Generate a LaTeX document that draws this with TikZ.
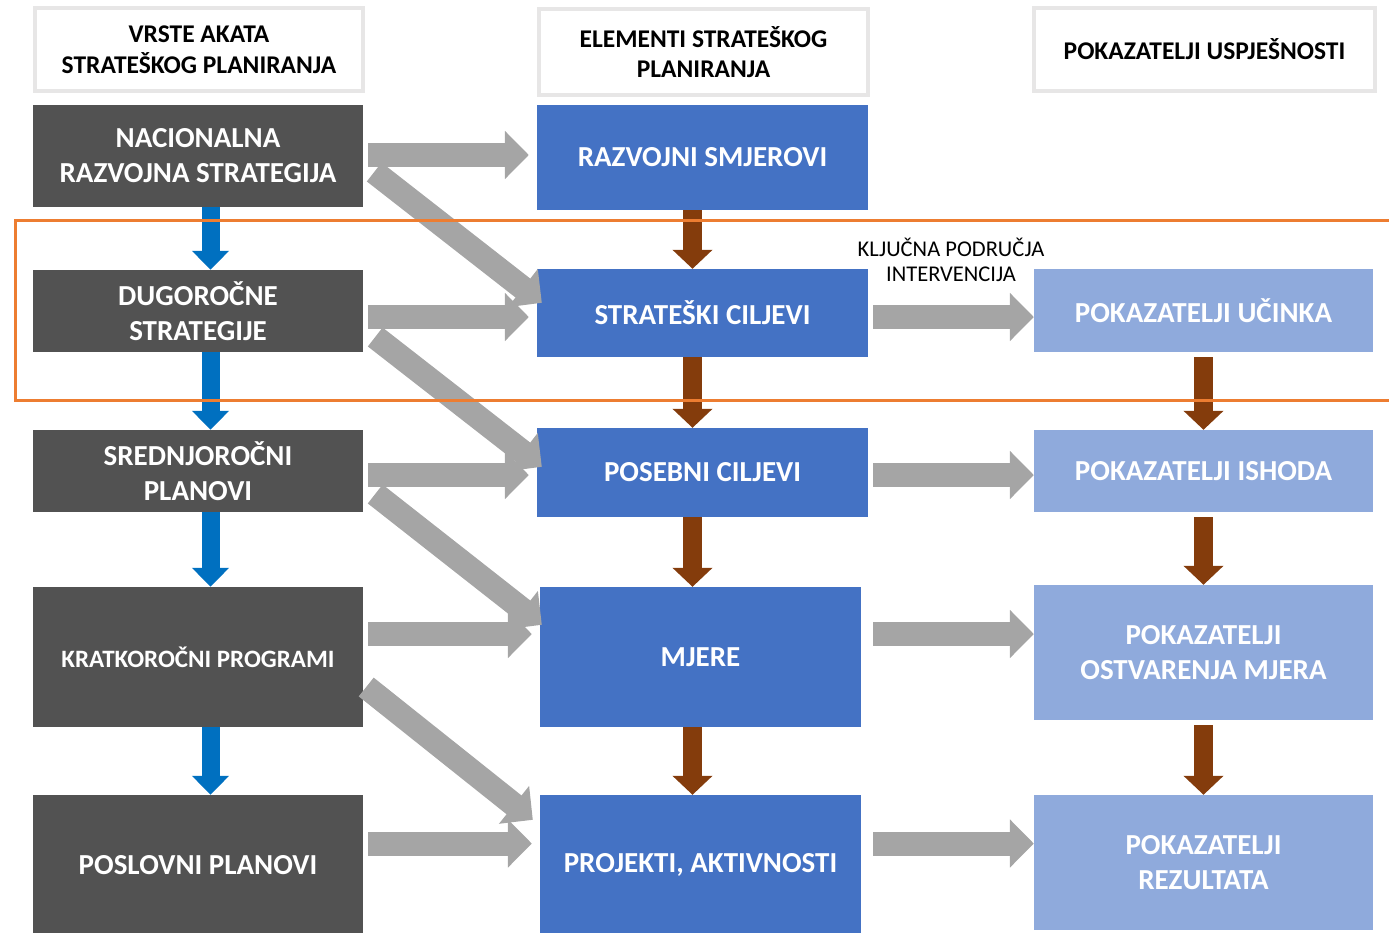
\documentclass[tikz,border=0pt]{standalone}
\usepackage{fontspec}
\setmainfont{Carlito}
\usetikzlibrary{arrows.meta,calc}

\definecolor{tamnosiva}{RGB}{82,82,82}
\definecolor{plava}{RGB}{68,114,196}
\definecolor{svijetloplava}{RGB}{143,170,220}
\definecolor{siva}{RGB}{165,165,165}
\definecolor{okvirsiva}{RGB}{231,230,230}
\definecolor{strelicaplava}{RGB}{0,112,192}
\definecolor{smeda}{RGB}{132,60,12}
\definecolor{narancasta}{RGB}{237,125,49}

\tikzset{
	x=1pt, y=-1pt,
	naslov/.style={draw=okvirsiva, line width=4pt, fill=white, inner sep=0pt, align=center, font=\fontsize{25.5}{30.5}\selectfont\bfseries},
	akt/.style={fill=tamnosiva, text=white, minimum width=330pt, inner sep=0pt, align=center, font=\fontsize{29}{35}\selectfont\bfseries},
	element/.style={fill=plava, text=white, inner sep=0pt, align=center, font=\fontsize{29}{35}\selectfont\bfseries},
	pokazatelj/.style={fill=svijetloplava, text=white, minimum width=339pt, inner sep=0pt, align=center, font=\fontsize{29}{35}\selectfont\bfseries},
	plavastrelica/.style={draw=strelicaplava, line width=18pt, -{Triangle[length=19pt,width=36pt]}},
	smedastrelica/.style={draw=smeda, line width=19pt, -{Triangle[length=19pt,width=39pt]}},
	sivastrelica/.style={draw=siva, line width=24pt, -{Triangle[length=24pt,width=47pt]}},
	oznaka/.style={above=23pt, inner sep=0pt, align=center, text=black, font=\fontsize{22.5}{25}\selectfont},
	okvir/.style={draw=narancasta, line width=3pt},
}

\begin{document}
\begin{tikzpicture}
		\useasboundingbox (0,0) rectangle (1389,932);

		\node[naslov, minimum width=328pt, minimum height=83pt] (h1) at (199,49.5) {VRSTE AKATA\\STRATEŠKOG PLANIRANJA};
		\node[naslov, minimum width=329pt, minimum height=86pt] (h2) at (703.5,52) {ELEMENTI STRATEŠKOG\\PLANIRANJA};
		\node[naslov, minimum width=341pt, minimum height=83pt] (h3) at (1204.5,49.5) {POKAZATELJI USPJEŠNOSTI};

		\node[akt, minimum height=102pt] (nrs) at (198,156) {NACIONALNA\\RAZVOJNA STRATEGIJA};
		\node[akt, minimum height=82pt] (dug) at (198,311) {DUGOROČNE\\STRATEGIJE};
		\node[akt, minimum height=82pt] (sred) at (198,471) {SREDNJOROČNI\\PLANOVI};
		\node[akt, minimum height=140pt, font=\fontsize{25}{30}\selectfont\bfseries] (krat) at (198,657) {KRATKOROČNI PROGRAMI};
		\node[akt, minimum height=140pt] (posl) at (198,865) {POSLOVNI PLANOVI};

		\node[element, minimum width=331pt, minimum height=105pt] (razv) at (702.5,157.5) {RAZVOJNI SMJEROVI};
		\node[element, minimum width=331pt, minimum height=88pt] (strat) at (702.5,313) {STRATEŠKI CILJEVI};
		\node[element, minimum width=331pt, minimum height=89pt] (pos) at (702.5,472.5) {POSEBNI CILJEVI};
		\node[element, minimum width=321pt, minimum height=140pt] (mjere) at (700.5,657) {MJERE};
		\node[element, minimum width=321pt, minimum height=140pt] (proj) at (700.5,865) {PROJEKTI, AKTIVNOSTI};

		\node[pokazatelj, minimum height=83pt] (uc) at (1203.5,310.5) {POKAZATELJI UČINKA};
		\node[pokazatelj, minimum height=82pt] (ish) at (1203.5,471) {POKAZATELJI ISHODA};
		\node[pokazatelj, minimum height=135pt] (ostv) at (1203.5,652.5) {POKAZATELJI\\OSTVARENJA MJERA};
		\node[pokazatelj, minimum height=135pt] (rez) at (1203.5,862.5) {POKAZATELJI\\REZULTATA};

		\draw ([xshift=12.5pt]nrs.south) edge[plavastrelica] ([xshift=12.5pt]dug.north)
		([xshift=12.5pt]dug.south) edge[plavastrelica] ([xshift=12.5pt]sred.north)
		([xshift=12.5pt]sred.south) edge[plavastrelica] ([xshift=12.5pt]krat.north)
		([xshift=12.5pt]krat.south) edge[plavastrelica] ([xshift=12.5pt]posl.north);

		\draw ([xshift=-10pt]razv.south) edge[smedastrelica] ([xshift=-10pt]strat.north)
		([xshift=-10pt]strat.south) edge[smedastrelica] ([xshift=-10pt]pos.north)
		([xshift=-10pt]pos.south) edge[smedastrelica] ([xshift=-8pt]mjere.north)
		([xshift=-8pt]mjere.south) edge[smedastrelica] ([xshift=-8pt]proj.north)
		(uc.south) edge[smedastrelica, shorten <=5pt] (ish.north)
		(ish.south) edge[smedastrelica, shorten <=5pt] (ostv.north)
		(ostv.south) edge[smedastrelica, shorten <=5pt] (rez.north);

		\draw (nrs.east |- 0,155) edge[sivastrelica, shorten <=5pt, shorten >=8pt] (razv.west |- 0,155)
		(dug.east |- 0,317) edge[sivastrelica, shorten <=5pt, shorten >=8pt] (strat.west |- 0,317)
		(sred.east |- 0,475) edge[sivastrelica, shorten <=5pt, shorten >=8pt] (pos.west |- 0,475)
		(krat.east |- 0,634) edge[sivastrelica, shorten <=5pt, shorten >=8pt] (mjere.west |- 0,634)
		(posl.east |- 0,843.5) edge[sivastrelica, shorten <=5pt, shorten >=8pt] (proj.west |- 0,843.5)
		(strat.east |- 0,317) edge[sivastrelica, shorten <=5pt] node[oznaka]{KLJUČNA PODRUČJA\\INTERVENCIJA} (uc.west |- 0,317)
		(pos.east |- 0,475) edge[sivastrelica, shorten <=5pt] (ish.west |- 0,475)
		(mjere.east |- 0,634) edge[sivastrelica, shorten <=12pt] (ostv.west |- 0,634)
		(proj.east |- 0,843.5) edge[sivastrelica, shorten <=12pt] (rez.west |- 0,843.5);

		\draw ($(nrs.east)+(11,16)$) edge[sivastrelica] ($(strat.north west)+(5,34)$)
		($(dug.east)+(12,26)$) edge[sivastrelica] ($(pos.north west)+(5,39)$)
		($(sred.east)+(12,23)$) edge[sivastrelica] ($(mjere.north west)+(2,38)$)
		($(krat.east)+(3,30)$) edge[sivastrelica] ($(proj.north west)+(-7,25)$);

		\draw[okvir] (15,220) rectangle (1400,400);
	\end{tikzpicture}
\end{document}
